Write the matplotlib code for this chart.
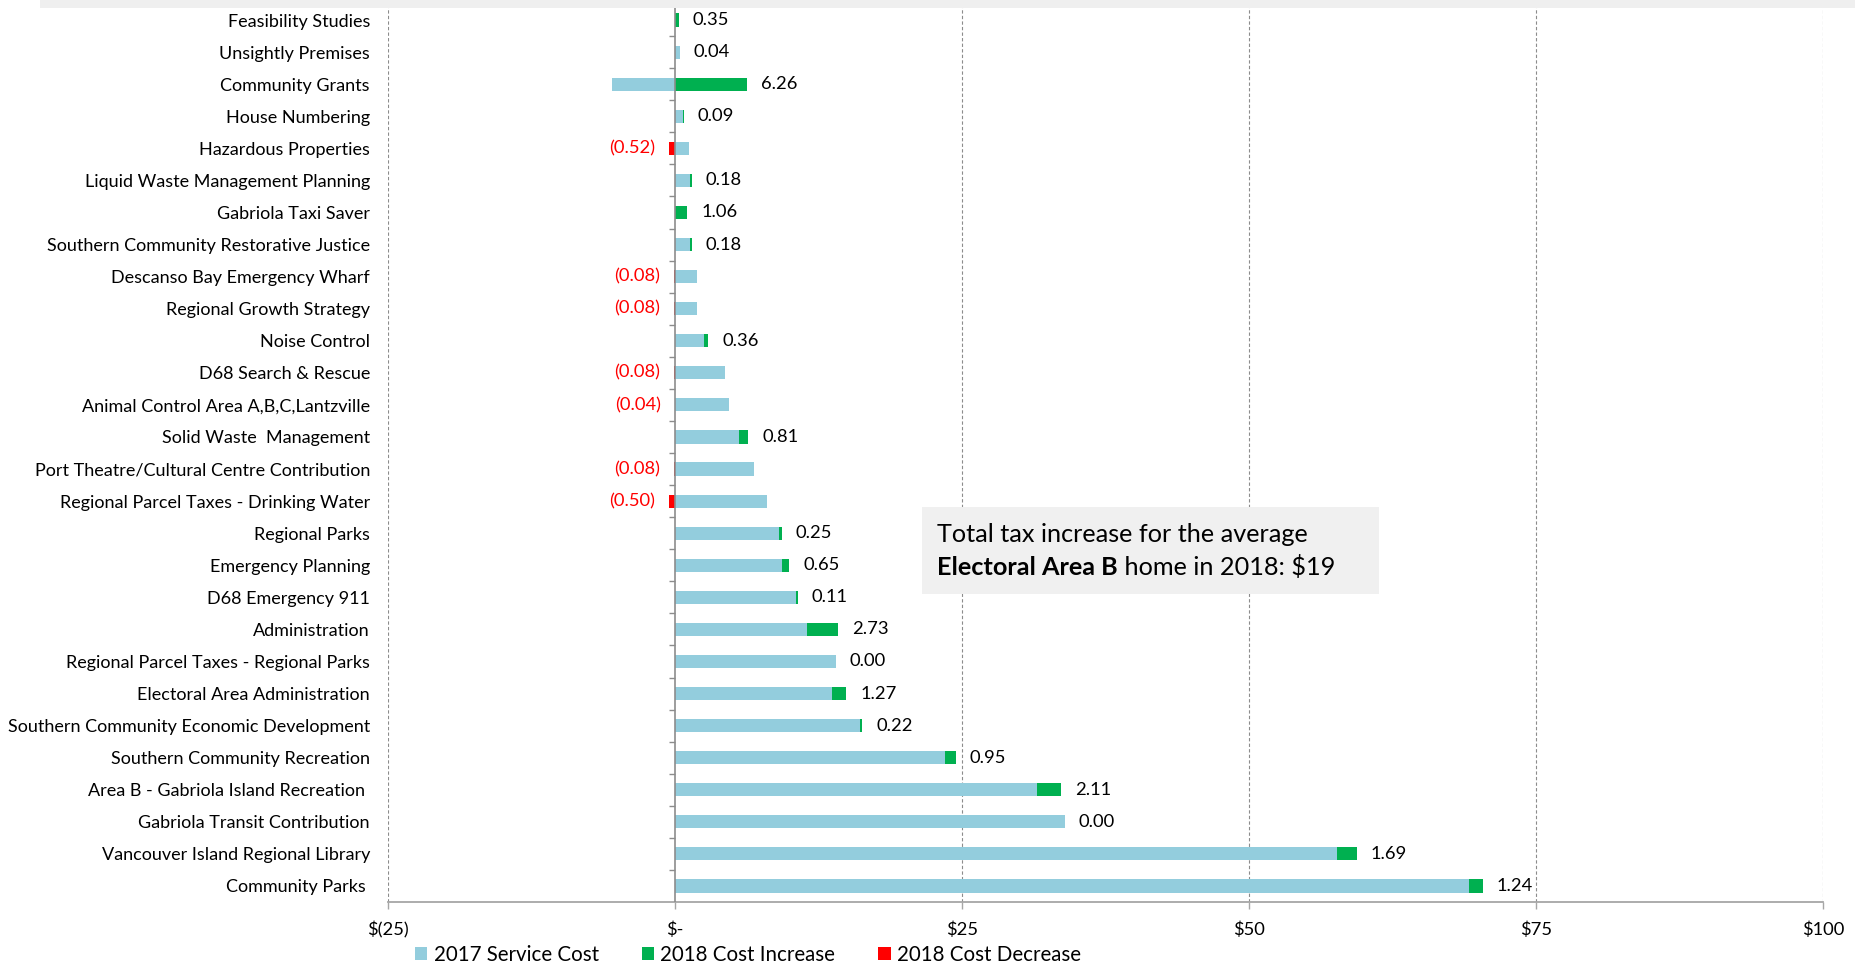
import matplotlib
matplotlib.use("Agg")
import matplotlib.pyplot as plt
from matplotlib.patches import Rectangle
import numpy as np

plt.rcParams['font.family'] = ['Lato', 'DejaVu Sans']

categories = [
    "Feasibility Studies", "Unsightly Premises", "Community Grants", "House Numbering",
    "Hazardous Properties", "Liquid Waste Management Planning", "Gabriola Taxi Saver",
    "Southern Community Restorative Justice", "Descanso Bay Emergency Wharf",
    "Regional Growth Strategy", "Noise Control", "D68 Search & Rescue",
    "Animal Control Area A,B,C,Lantzville", "Solid Waste  Management",
    "Port Theatre/Cultural Centre Contribution", "Regional Parcel Taxes - Drinking Water",
    "Regional Parks", "Emergency Planning", "D68 Emergency 911", "Administration",
    "Regional Parcel Taxes - Regional Parks", "Electoral Area Administration",
    "Southern Community Economic Development", "Southern Community Recreation",
    "Area B - Gabriola Island Recreation ", "Gabriola Transit Contribution",
    "Vancouver Island Regional Library", "Community Parks ",
]
cost_2017 = [0.0, 0.40, -5.5, 0.67, 1.25, 1.31, 0.0, 1.31, 1.89, 1.89, 2.53, 4.36,
             4.67, 5.57, 6.85, 8.04, 9.03, 9.32, 10.57, 11.47, 14.02, 13.65, 16.11,
             23.52, 31.5, 33.97, 57.7, 69.15]
change_2018 = [0.35, 0.04, 6.26, 0.09, -0.52, 0.18, 1.06, 0.18, -0.08, -0.08, 0.36, -0.08,
               -0.04, 0.81, -0.08, -0.50, 0.25, 0.65, 0.11, 2.73, 0.00, 1.27, 0.22,
               0.95, 2.11, 0.00, 1.69, 1.24]
x_ticks = [-25, 0, 25, 50, 75, 100]
x_tick_labels = ["$(25)", "$-", "$25", "$50", "$75", "$100"]
legend_labels = ["2017 Service Cost", "2018 Cost Increase", "2018 Cost Decrease"]
note_line1 = "Total tax increase for the average"
note_bold = "Electoral Area B"
note_rest = " home in 2018: $19"

BLUE = "#93CDDD"
GREEN = "#00B050"
RED = "#FF0000"
GRID = "#8C8C8C"

W, H = 1856, 967
fig = plt.figure(figsize=(W / 100, H / 100), dpi=100)

def fx(px):
    return px / W

def fy(py):
    return 1 - py / H

ax_left, ax_right, ax_top, ax_bottom = 388, 1823, 4, 902
ax = fig.add_axes([fx(ax_left), fy(ax_bottom), fx(ax_right - ax_left), (ax_bottom - ax_top) / H])

base = np.array(cost_2017)
chg = np.array(change_2018)
y = np.arange(len(categories))
h = 0.41

ax.barh(y, base, height=h, color=BLUE, zorder=3, label=legend_labels[0])
inc = np.where(chg >= 0, chg, 0)
dec = np.where(chg < 0, chg, 0)
inc_left = np.where(base > 0, base, 0)
dec_left = np.where(base < 0, base, 0)
ax.barh(y, inc, left=inc_left, height=h, color=GREEN, zorder=3, label=legend_labels[1])
ax.barh(y, dec, left=dec_left, height=h, color=RED, zorder=3, label=legend_labels[2])

for yi, b, c in zip(y, base, chg):
    if c >= 0:
        end = max(b, 0) + c
        ax.annotate(f"{c:.2f}", xy=(end, yi), xytext=(10, 0), textcoords="offset points",
                    ha="left", va="center", fontsize=13.2, color="black")
    else:
        end = min(b, 0) + c
        ax.annotate(f"({abs(c):.2f})", xy=(end, yi), xytext=(-10, 0), textcoords="offset points",
                    ha="right", va="center", fontsize=13.2, color=RED)

ax.set_xlim(-25, 100)
ax.set_ylim(len(categories) - 0.5, -0.5)
ax.set_xticks(x_ticks)
ax.set_xticklabels(x_tick_labels)
ax.set_yticks(y)
ax.set_yticklabels(categories)
ax.tick_params(axis="y", length=0, pad=13, labelsize=13)
ax.tick_params(axis="x", length=5, width=1, color="#A6A6A6", pad=9, labelsize=13.2, direction="out")

for s in ["top", "right", "left"]:
    ax.spines[s].set_visible(False)
ax.spines["bottom"].set_color("#A6A6A6")
ax.spines["bottom"].set_linewidth(1.3)

for xt in x_ticks:
    if xt != 0:
        ax.axvline(xt, color=GRID, lw=0.8, ls=(0, (3, 2)), zorder=1)
ax.axvline(0, color="#8C8C8C", lw=1.2, zorder=4)
bounds = np.arange(len(categories) - 1) + 0.5
ax.hlines(bounds, -0.55, 0, color="#8C8C8C", lw=1.0, zorder=4)

# legend
handles, labels = ax.get_legend_handles_labels()
leg = fig.legend(handles, labels, loc="center", bbox_to_anchor=(fx(748), fy(955)), ncol=3,
                 frameon=False, fontsize=14.8, handlelength=0.6, handleheight=0.6,
                 handletextpad=0.3, columnspacing=2.1, borderpad=0)

# top band
fig.add_artist(Rectangle((fx(40), fy(7.5)), 1 - fx(40), 7.5 / H, transform=fig.transFigure,
                         facecolor="#EFEFEF", edgecolor="none", zorder=5))

# note box
bx0, bx1, by0, by1 = 922, 1379, 507, 594
fig.add_artist(Rectangle((fx(bx0), fy(by1)), fx(bx1 - bx0), (by1 - by0) / H,
                         transform=fig.transFigure, facecolor="#F0F0F0", edgecolor="none", zorder=5))
fs_note = 18.2
fig.text(fx(937), fy(542), note_line1, fontsize=fs_note, ha="left", va="baseline", zorder=6)
t_bold = fig.text(fx(937), fy(575), note_bold, fontsize=fs_note, fontweight="bold",
                  ha="left", va="baseline", zorder=6)
fig.canvas.draw()
bb = t_bold.get_window_extent()
fig.text(bb.x1 / W, fy(575), note_rest, fontsize=fs_note, ha="left", va="baseline", zorder=6)

fig.savefig("out.png", dpi=100)
